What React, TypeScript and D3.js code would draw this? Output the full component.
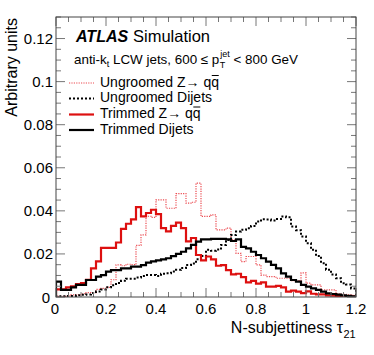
import React, { useLayoutEffect, useRef, useState } from "react";
import * as d3 from "d3";

const nBins = 60;
const xMin = 0;
const xMax = 1.2;
const yMax = 0.13;

const ungroomedZ = [
  0.0003, 0.0003, 0.0005, 0.001, 0.001, 0.0015, 0.002, 0.002, 0.0035, 0.004,
  0.0045, 0.008, 0.0149, 0.0145, 0.0152, 0.015, 0.024, 0.0288, 0.0375, 0.037,
  0.0451, 0.0451, 0.0412, 0.0412, 0.048, 0.048, 0.0436, 0.044, 0.0529, 0.0374,
  0.0374, 0.0381, 0.0312, 0.0312, 0.032, 0.0265, 0.0203, 0.0164, 0.0188, 0.0188,
  0.0149, 0.0102, 0.0095, 0.0095, 0.0087, 0.0087, 0.0087, 0.0076, 0.0076, 0.0112,
  0.0064, 0.0056, 0.0056, 0.0033, 0.0033, 0.0033, 0.0015, 0.0012, 0.001, 0.0008,
];

const ungroomedDijets = [
  0.0003, 0.0003, 0.0005, 0.0005, 0.0008, 0.001, 0.0012, 0.0018, 0.0025, 0.0035,
  0.0045, 0.0055, 0.0065, 0.0075, 0.0085, 0.0085, 0.009, 0.0098, 0.0102, 0.0102,
  0.0098, 0.0108, 0.011, 0.0118, 0.0126, 0.0135, 0.0149, 0.0155, 0.0175, 0.019,
  0.0219, 0.0215, 0.022, 0.0242, 0.0265, 0.0288, 0.0304, 0.0312, 0.0319, 0.033,
  0.035, 0.0361, 0.036, 0.0355, 0.0362, 0.0374, 0.037, 0.0327, 0.031, 0.0281,
  0.025, 0.0219, 0.019, 0.0157, 0.0126, 0.0105, 0.0087, 0.0064, 0.0058, 0.004,
];

const trimmedZ = [
  0.0035, 0.0035, 0.0045, 0.005, 0.006, 0.0065, 0.008, 0.0133, 0.0165, 0.0228,
  0.0228, 0.0228, 0.0253, 0.0316, 0.034, 0.036, 0.0417, 0.0374, 0.039, 0.0405,
  0.0385, 0.032, 0.0305, 0.033, 0.0345, 0.032, 0.0258, 0.0274, 0.0195, 0.017,
  0.0188, 0.0175, 0.0145, 0.0148, 0.0125, 0.0105, 0.0108, 0.0092, 0.0068, 0.0075,
  0.0062, 0.0068, 0.0048, 0.0048, 0.0052, 0.0045, 0.0025, 0.003, 0.0025, 0.0018,
  0.0026, 0.0015, 0.0012, 0.0012, 0.0008, 0.0006, 0.0005, 0.0004, 0.0003, 0.0002,
];

const trimmedDijets = [
  0.0071, 0.0033, 0.0033, 0.0045, 0.0056, 0.0056, 0.0079, 0.0079, 0.0095, 0.0102,
  0.0118, 0.0125, 0.0125, 0.0133, 0.0133, 0.0141, 0.0141, 0.0148, 0.016, 0.0165,
  0.017, 0.0175, 0.018, 0.019, 0.02, 0.021, 0.0226, 0.0242, 0.0257, 0.0268,
  0.0268, 0.027, 0.027, 0.027, 0.0268, 0.026, 0.0268, 0.0233, 0.0226, 0.021,
  0.0195, 0.018, 0.0164, 0.0149, 0.0133, 0.011, 0.0095, 0.0079, 0.0071, 0.0056,
  0.0048, 0.004, 0.0033, 0.0025, 0.0017, 0.0014, 0.0011, 0.0008, 0.0005, 0.0003,
];

const xTickLabels = ["0", "0.2", "0.4", "0.6", "0.8", "1", "1.2"];
const yTickLabels = ["0", "0.02", "0.04", "0.06", "0.08", "0.1", "0.12"];

const FONT = "'Liberation Sans', Arial, Helvetica, sans-serif";

const W = 374;
const H = 355;
const L = 56, R = 356, T = 17, B = 297;

const x = d3.scaleLinear().domain([xMin, xMax]).range([L, R]);
const y = d3.scaleLinear().domain([0, yMax]).range([B, T]);

function stepPath(vals: number[]): string {
  const bw = (xMax - xMin) / nBins;
  const pts: [number, number][] = [[xMin, 0]];
  vals.forEach((v, i) => {
    pts.push([xMin + i * bw, v]);
    pts.push([xMin + (i + 1) * bw, v]);
  });
  pts.push([xMax, 0]);
  const line = d3.line<[number, number]>().x((d) => x(d[0])).y((d) => y(d[1]));
  return line(pts) || "";
}

const series = [
  { name: "ungZ", label: "Ungroomed Z", vals: ungroomedZ, color: "#eb4a50", width: 1.2, dash: "1.2,1.2", isZ: true },
  { name: "ungDj", label: "Ungroomed Dijets", vals: ungroomedDijets, color: "#000", width: 2, dash: "2,2", isZ: false },
  { name: "trimZ", label: "Trimmed Z", vals: trimmedZ, color: "#dd1010", width: 2.2, dash: "", isZ: true },
  { name: "trimDj", label: "Trimmed Dijets", vals: trimmedDijets, color: "#000", width: 2.2, dash: "", isZ: false },
];

function LegendText({ label, isZ, yb }: { label: string; isZ: boolean; yb: number }) {
  const ref = useRef<SVGTextElement>(null);
  const [bar, setBar] = useState<[number, number] | null>(null);
  const full = isZ ? label + "\u2192 qq" : label;
  useLayoutEffect(() => {
    if (!isZ || !ref.current) return;
    const n = full.length;
    try {
      const s = ref.current.getStartPositionOfChar(n - 1);
      const e = ref.current.getEndPositionOfChar(n - 1);
      setBar([s.x + 0.5, e.x - 0.3]);
    } catch (err) {
      setBar(null);
    }
  }, [full, isZ]);
  return (
    <g>
      <text ref={ref} fontFamily={FONT} fontSize={14} x={100} y={yb}>{full}</text>
      {bar ? <line x1={bar[0]} x2={bar[1]} y1={yb - 11} y2={yb - 11} stroke="#000" strokeWidth={1} /> : null}
    </g>
  );
}

export default function App() {
  const xMinor = d3.range(0, 1.2001, 0.05);
  const xMajor = d3.range(0, 1.2001, 0.2);
  const yMinor = d3.range(0, 0.1301, 0.005);
  const yMajor = d3.range(0, 0.1201, 0.02);
  const legendY = [83, 98.5, 114.5, 130];
  return (
    <svg width={W} height={H} style={{ display: "block", position: "absolute", left: 0, top: 0 }}>
      <rect x={0} y={0} width={W} height={H} fill="#fff" />
      <defs>
        <clipPath id="plotclip">
          <rect x={L} y={T} width={R - L} height={B - T} />
        </clipPath>
      </defs>
      <g clipPath="url(#plotclip)" fill="none">
        {series.map((s) => (
          <path key={s.name} d={stepPath(s.vals)} stroke={s.color} strokeWidth={s.width}
            strokeDasharray={s.dash || undefined} strokeLinejoin="miter" />
        ))}
      </g>
      <g stroke="#777" strokeWidth={1}>
        {xMinor.map((t, i) => {
          const isMaj = xMajor.some((m) => Math.abs(m - t) < 1e-6);
          const len = isMaj ? 9 : 5;
          return (
            <g key={"xt" + i}>
              <line x1={x(t)} x2={x(t)} y1={B} y2={B - len} />
              <line x1={x(t)} x2={x(t)} y1={T} y2={T + len} />
            </g>
          );
        })}
        {yMinor.map((t, i) => {
          const isMaj = yMajor.some((m) => Math.abs(m - t) < 1e-6);
          const len = isMaj ? 9 : 5;
          return (
            <g key={"yt" + i}>
              <line x1={L} x2={L + len} y1={y(t)} y2={y(t)} />
              <line x1={R} x2={R - len} y1={y(t)} y2={y(t)} />
            </g>
          );
        })}
      </g>
      <rect x={L} y={T} width={R - L} height={B - T} fill="none" stroke="#444" strokeWidth={1} />
      <g fontFamily={FONT} fontSize={15} fill="#000">
        {xTickLabels.map((lab, i) => (
          <text key={"xl" + i} x={x(xMajor[i]) - (i === 0 ? 1 : 0)} y={314} textAnchor="middle">{lab}</text>
        ))}
        {yTickLabels.map((lab, i) => (
          <text key={"yl" + i} x={i === 0 ? 50 : 53} y={y(yMajor[i]) + 5.5} textAnchor="end">{lab}</text>
        ))}
      </g>
      <text fontFamily={FONT} fontSize={16} transform="translate(17,18) rotate(-90)" textAnchor="end">Arbitrary units</text>
      <text fontFamily={FONT} fontSize={16} x={343} y={333} textAnchor="end">N-subjettiness τ</text>
      <text fontFamily={FONT} fontSize={11} x={343.5} y={338}>21</text>
      <text fontFamily={FONT} fontSize={16} fontWeight="bold" fontStyle="italic" x={76} y={42}>ATLAS</text>
      <text fontFamily={FONT} fontSize={16.5} x={133} y={42}>Simulation</text>
      <text fontFamily={FONT} fontSize={13.4} x={74} y={64}>
        anti-k<tspan fontSize={9} dy={3}>t</tspan>
        <tspan dy={-3}> LCW jets, 600 ≤ p</tspan>
        <tspan fontSize={9} dy={-7} dx={1}>jet</tspan>
        <tspan fontSize={9} dy={11} dx={-10}>T</tspan>
        <tspan dy={-4} dx={4.5}> &lt; 800 GeV</tspan>
      </text>
      {series.map((s, i) => (
        <g key={"lg" + i}>
          <line x1={69} x2={94} y1={legendY[i]} y2={legendY[i]} stroke={s.color} strokeWidth={s.width}
            strokeDasharray={s.dash || undefined} />
          <LegendText label={s.label} isZ={s.isZ} yb={legendY[i] + 3.5} />
        </g>
      ))}
    </svg>
  );
}
